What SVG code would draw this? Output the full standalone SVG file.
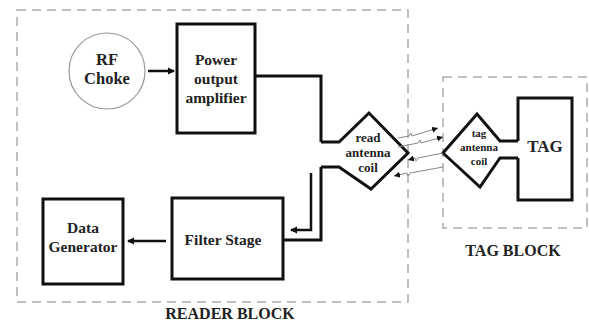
<svg xmlns="http://www.w3.org/2000/svg" width="589" height="324" viewBox="0 0 589 324">
<style>
.blk{fill:none;stroke:#111;stroke-width:3;stroke-linejoin:miter}
.dash{fill:none;stroke:#aaa;stroke-width:1.5;stroke-dasharray:9,6}
.t{font-family:"Liberation Serif","Times New Roman",serif;font-weight:bold;fill:#222;text-anchor:middle}
.w{fill:none;stroke:#888;stroke-width:1}
.c{fill:none;stroke:#111;stroke-width:2.5}
</style>
<defs>
<marker id="ah" markerWidth="8" markerHeight="8" refX="6" refY="4" orient="auto" markerUnits="userSpaceOnUse">
<path d="M0,0.5 L7,4 L0,7.5 Z" fill="#111"/>
</marker>
<marker id="wh" markerWidth="7" markerHeight="6" refX="6" refY="3" orient="auto" markerUnits="userSpaceOnUse">
<path d="M0,0 L6,3 L0,6 Z" fill="#111"/>
</marker>
</defs>
<rect fill="#fff" width="589" height="324"/>
<g id="reader-block">
<rect class="dash" x="17" y="10" width="391" height="292"/>
<text class="t" x="230" y="319" font-size="16">READER BLOCK</text>
</g>
<g id="tag-block">
<rect class="dash" x="443" y="77" width="144" height="151"/>
<text class="t" x="513" y="256" font-size="16">TAG BLOCK</text>
</g>
<g id="rf-choke">
<circle cx="107" cy="71" r="38" fill="none" stroke="#999" stroke-width="1.2"/>
<text class="t" x="107" y="65" font-size="16.5">RF</text>
<text class="t" x="107" y="84" font-size="16.5">Choke</text>
</g>
<g id="power-amp">
<rect class="blk" x="177" y="24" width="78" height="109"/>
<text class="t" x="216" y="65" font-size="15.5">Power</text>
<text class="t" x="216" y="84" font-size="15.5">output</text>
<text class="t" x="216" y="103" font-size="15.5">amplifier</text>
</g>
<g id="read-coil">
<path class="blk" d="M321,142 L339,142 L369,113 L408,153 L371,189 L339,167 L321,167"/>
<text class="t" x="368" y="142" font-size="13">read</text>
<text class="t" x="368" y="157" font-size="13">antenna</text>
<text class="t" x="368" y="172" font-size="13">coil</text>
</g>
<g id="tag-coil">
<path class="blk" d="M518,141 L500,141 L477,114 L443,153 L480,187 L500,158 L518,158"/>
<text class="t" x="479" y="137" font-size="11">tag</text>
<text class="t" x="479" y="151" font-size="11">antenna</text>
<text class="t" x="479" y="165" font-size="11">coil</text>
</g>
<g id="tag">
<path class="blk" d="M518,141 L518,98 L572,98 L572,200 L518,200 L518,158"/>
<text class="t" x="545" y="152" font-size="17">TAG</text>
</g>
<g id="filter-stage">
<rect class="blk" x="172" y="198" width="111" height="81"/>
<text class="t" x="223" y="245" font-size="15.5">Filter Stage</text>
</g>
<g id="data-generator">
<rect class="blk" x="43" y="199" width="80" height="85"/>
<text class="t" x="83" y="233" font-size="15.5">Data</text>
<text class="t" x="83" y="252" font-size="15.5">Generator</text>
</g>
<g id="connectors">
<line class="c" x1="148" y1="71" x2="174" y2="71" marker-end="url(#ah)"/>
<polyline class="blk" points="255,76 321,76 321,142"/>
<polyline class="blk" points="321,167 321,240 283,240"/>
<polyline class="c" points="311,173 311,230 291,230" marker-end="url(#ah)"/>
<line class="c" x1="166" y1="241" x2="128" y2="241" marker-end="url(#ah)"/>
<path class="w" d="M398,138 L409,136 L411,133 L412,136 L438,128" marker-end="url(#wh)"/>
<path class="w" d="M398,147 L418,143 L420,140 L421,143 L443,137" marker-end="url(#wh)"/>
<path class="w" d="M443,153 L418,158 L416,161 L415,158 L408,160" marker-end="url(#wh)"/>
<path class="w" d="M443,167 L410,173 L408,176 L407,173 L394,176" marker-end="url(#wh)"/>
</g>
</svg>
